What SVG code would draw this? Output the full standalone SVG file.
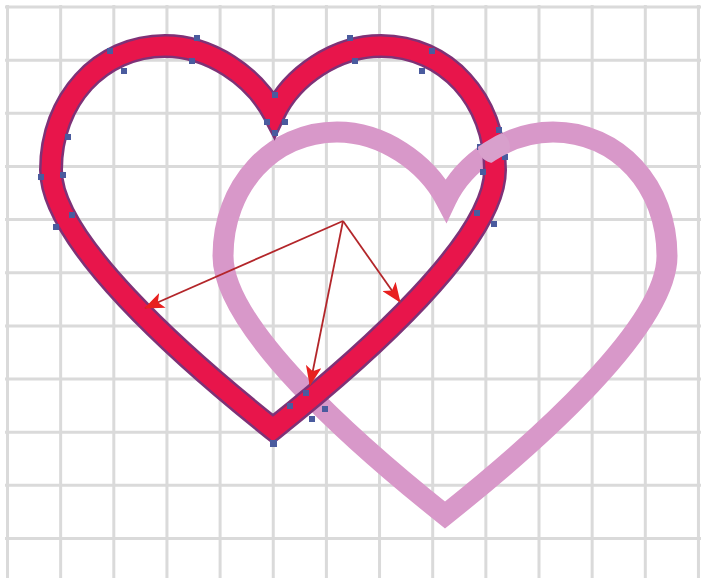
<svg xmlns="http://www.w3.org/2000/svg" width="701" height="578" viewBox="0 0 701 578">
<defs>
<style>
.g{stroke:#dadada;stroke-width:3;fill:none}
.heart{fill:none;stroke-linejoin:miter;stroke-miterlimit:10}
.n{fill:#4a5b9e}
.arr{stroke:#b3262a;stroke-width:1.8;fill:none;marker-end:url(#ah)}
</style>
<path id="hp" d="M 274 114 C 254 76, 210 46, 165 46 C 100 46, 51 100, 51 170 C 51 240, 180 355, 273 429 C 366 355, 495 240, 495 170 C 495 100, 446 46, 381 46 C 336 46, 292 76, 274 114 Z"/>
<marker id="ah" viewBox="0 0 20 16" refX="19" refY="8" markerWidth="20" markerHeight="16" markerUnits="userSpaceOnUse" orient="auto">
<path d="M0 0 L20 8 L0 16 L5 8 Z" fill="#e8201f"/>
</marker>
<clipPath id="cx"><circle cx="494" cy="147" r="16"/></clipPath>
</defs>
<rect width="701" height="578" fill="#ffffff"/>
<g id="grid">
<path class="g" d="M5 7H701M5 60.15H701M5 113.3H701M5 166.45H701M5 219.6H701M5 272.75H701M5 325.9H701M5 379.05H701M5 432.2H701M5 485.35H701M5 538.5H701"/>
<path class="g" d="M7.5 5V578M60.65 5V578M113.8 5V578M166.95 5V578M220.1 5V578M273.25 5V578M326.4 5V578M379.55 5V578M432.7 5V578M485.85 5V578M539 5V578M592.15 5V578M645.3 5V578M698.45 5V578"/>
</g>
<g id="heart-pink">
<use href="#hp" class="heart" transform="translate(172,86)" stroke="#d898c9" stroke-width="21"/>
</g>
<g id="heart-red">
<use href="#hp" class="heart" stroke="#7e3277" stroke-width="24"/>
<use href="#hp" class="heart" stroke="#e8154b" stroke-width="19"/>
<g id="nodes">
<rect class="n" x="107" y="48" width="6" height="6"/>
<rect class="n" x="121" y="68" width="6" height="6"/>
<rect class="n" x="194" y="35" width="6" height="6"/>
<rect class="n" x="189" y="58" width="6" height="6"/>
<rect class="n" x="272" y="92" width="6" height="6"/>
<rect class="n" x="264" y="119" width="6" height="6"/>
<rect class="n" x="282" y="119" width="6" height="6"/>
<rect class="n" x="272" y="130" width="6" height="6"/>
<rect class="n" x="347" y="35" width="6" height="6"/>
<rect class="n" x="352" y="58" width="6" height="6"/>
<rect class="n" x="429" y="48" width="6" height="6"/>
<rect class="n" x="419" y="68" width="6" height="6"/>
<rect class="n" x="65" y="134" width="6" height="6"/>
<rect class="n" x="60" y="172" width="6" height="6"/>
<rect class="n" x="38" y="174" width="6" height="6"/>
<rect class="n" x="69" y="212" width="6" height="6"/>
<rect class="n" x="53" y="224" width="6" height="6"/>
<rect class="n" x="496" y="127" width="6" height="6"/>
<rect class="n" x="477" y="144" width="6" height="6"/>
<rect class="n" x="502" y="154" width="6" height="6"/>
<rect class="n" x="480" y="169" width="6" height="6"/>
<rect class="n" x="491" y="221" width="6" height="6"/>
<rect class="n" x="474" y="210" width="6" height="6"/>
<rect class="n" x="270" y="440" width="7" height="7"/>
<rect class="n" x="287" y="403" width="6" height="6"/>
<rect class="n" x="303" y="390" width="6" height="6"/>
<rect class="n" x="322" y="406" width="6" height="6"/>
<rect class="n" x="309" y="416" width="6" height="6"/>
</g>
</g>
<g id="pink-over" clip-path="url(#cx)">
<use href="#hp" class="heart" transform="translate(172,86)" stroke="#d8a0cc" stroke-width="21"/>
</g>
<g id="connectors">
<line class="arr" x1="343" y1="221" x2="145" y2="308"/>
<line class="arr" x1="343" y1="221" x2="310" y2="385"/>
<line class="arr" x1="343" y1="221" x2="400" y2="302"/>
</g>
</svg>
